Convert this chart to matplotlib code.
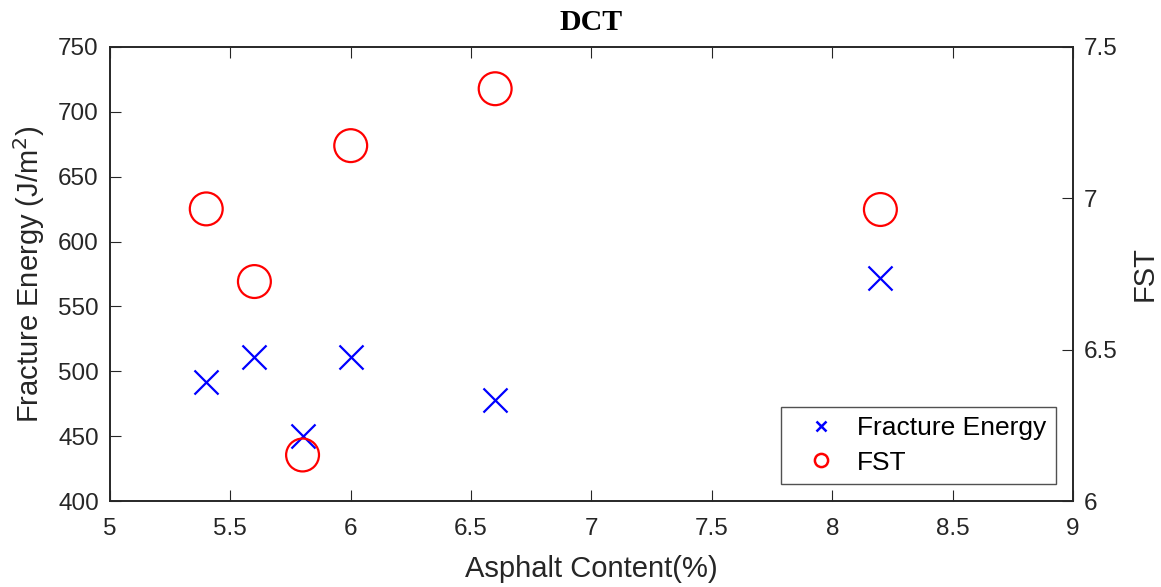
import matplotlib
matplotlib.use("Agg")
import matplotlib.pyplot as plt
from matplotlib.lines import Line2D

asphalt = [5.4, 5.6, 5.8, 6.0, 6.6, 8.2]
fracture_energy = [492, 511, 450, 511, 478, 572]
fst = [6.965, 6.725, 6.152, 7.174, 7.362, 6.963]

plt.rcParams['font.family'] = ['Liberation Sans', 'DejaVu Sans']

fig = plt.figure(figsize=(11.61, 5.87), dpi=100)
ax = fig.add_axes([0.0947, 0.1465, 0.8295, 0.7735])
ax2 = ax.twinx()

ax.scatter(asphalt, fracture_energy, marker='x', s=300, color='#0000ff', linewidths=1.6, zorder=3)
ax2.scatter(asphalt, fst, marker='o', s=560, facecolors='none', edgecolors='#ff0000', linewidths=1.6, zorder=3)

ax.set_xlim(5, 9)
ax.set_ylim(400, 750)
ax2.set_ylim(6, 7.5)
ax.set_xticks([5, 5.5, 6, 6.5, 7, 7.5, 8, 8.5, 9])
ax.set_xticklabels(['5', '5.5', '6', '6.5', '7', '7.5', '8', '8.5', '9'])
ax.set_yticks(range(400, 751, 50))
ax2.set_yticks([6, 6.5, 7, 7.5])
ax2.set_yticklabels(['6', '6.5', '7', '7.5'])

tc = '#262626'
ax.tick_params(axis='x', direction='in', top=True, length=8, labelsize=17.5, pad=12, color=tc, labelcolor=tc)
ax.tick_params(axis='y', direction='in', left=True, right=False, length=8, labelsize=17.5, pad=8, color=tc, labelcolor=tc)
ax2.tick_params(axis='y', direction='in', length=8, labelsize=17.5, pad=8, color=tc, labelcolor=tc)
for a in (ax, ax2):
    for s in a.spines.values():
        s.set_color(tc)
        s.set_linewidth(1.2)

ax.set_xlabel('Asphalt Content(%)', fontsize=21, color=tc, labelpad=11)
ax.set_ylabel('Fracture Energy (J/m$^2$)', fontsize=21, color=tc, labelpad=8)
ax2.set_ylabel('FST', fontsize=21, color=tc, labelpad=9)
ax.set_title('DCT', fontsize=21.5, fontweight='bold', family='Liberation Serif', pad=12)

handles = [
    Line2D([], [], marker='x', linestyle='none', color='#0000ff', markersize=7, markeredgewidth=1.8),
    Line2D([], [], marker='o', linestyle='none', markerfacecolor='none', markeredgecolor='#ff0000', markersize=9.5, markeredgewidth=1.8),
]
leg = ax.legend(handles, ['Fracture Energy', 'FST'], loc='lower right', fontsize=19,
                frameon=True, fancybox=False, edgecolor=tc, borderaxespad=0.65,
                handletextpad=0.2, handlelength=2.35, labelspacing=0.4, borderpad=0.35)
leg.get_frame().set_linewidth(1.0)

fig.savefig('out.png', dpi=100)
